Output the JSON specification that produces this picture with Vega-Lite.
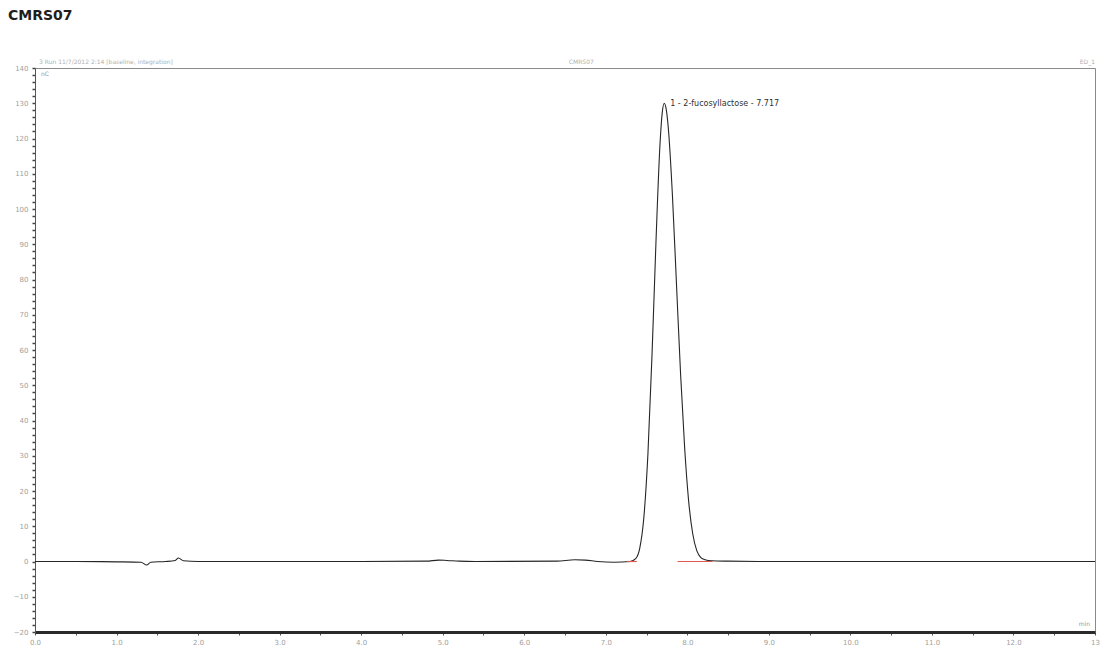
{
  "$schema": "https://vega.github.io/schema/vega-lite/v6.json",
  "width": 1060,
  "height": 564,
  "autosize": {"type": "none"},
  "padding": {"left": 35, "top": 68, "right": 5, "bottom": 15},
  "background": "white",
  "config": {
    "font": "DejaVu Sans",
    "view": {"stroke": "#8a8a8a", "strokeWidth": 1}
  },
  "title": {
    "text": "CMRS07",
    "anchor": "start",
    "frame": "group",
    "dx": -27,
    "offset": 36,
    "fontSize": 14,
    "fontWeight": "bold",
    "font": "DejaVu Sans",
    "color": "#1e1e1e"
  },
  "datasets": {
    "trace": [
      {"t": 0.0, "signal": 0.0},
      {"t": 0.5, "signal": 0.0},
      {"t": 1.0, "signal": -0.1},
      {"t": 1.3, "signal": -0.2},
      {"t": 1.37, "signal": -1.0},
      {"t": 1.42, "signal": -0.2},
      {"t": 1.6, "signal": 0.0},
      {"t": 1.72, "signal": 0.3},
      {"t": 1.76, "signal": 1.0},
      {"t": 1.82, "signal": 0.2},
      {"t": 2.0, "signal": 0.0},
      {"t": 3.0, "signal": 0.0},
      {"t": 4.0, "signal": 0.0},
      {"t": 4.8, "signal": 0.1},
      {"t": 4.95, "signal": 0.4},
      {"t": 5.05, "signal": 0.3},
      {"t": 5.2, "signal": 0.1},
      {"t": 5.4, "signal": 0.0},
      {"t": 6.4, "signal": 0.1},
      {"t": 6.62, "signal": 0.5},
      {"t": 6.75, "signal": 0.4},
      {"t": 6.9, "signal": 0.0},
      {"t": 7.1, "signal": -0.2},
      {"t": 7.3, "signal": 0.0},
      {"t": 7.367, "signal": 0.8},
      {"t": 7.417, "signal": 3.8},
      {"t": 7.467, "signal": 12.5},
      {"t": 7.517, "signal": 30.5},
      {"t": 7.567, "signal": 58.5},
      {"t": 7.617, "signal": 91.5},
      {"t": 7.667, "signal": 119.2},
      {"t": 7.692, "signal": 127.2},
      {"t": 7.717, "signal": 130.0},
      {"t": 7.742, "signal": 128.2},
      {"t": 7.767, "signal": 123.0},
      {"t": 7.817, "signal": 104.1},
      {"t": 7.867, "signal": 78.8},
      {"t": 7.917, "signal": 53.4},
      {"t": 7.967, "signal": 32.4},
      {"t": 8.017, "signal": 17.0},
      {"t": 8.067, "signal": 7.8},
      {"t": 8.117, "signal": 3.0},
      {"t": 8.167, "signal": 1.1},
      {"t": 8.217, "signal": 0.5},
      {"t": 8.3, "signal": 0.2},
      {"t": 8.5, "signal": 0.1},
      {"t": 9.0, "signal": 0.0},
      {"t": 10.0, "signal": 0.0},
      {"t": 11.0, "signal": 0.0},
      {"t": 12.0, "signal": 0.0},
      {"t": 13.0, "signal": 0.0}
    ],
    "integration": [
      {"seg": "start", "t": 7.26, "signal": 0.0},
      {"seg": "start", "t": 7.38, "signal": 0.0},
      {"seg": "end", "t": 7.88, "signal": 0.0},
      {"seg": "end", "t": 8.31, "signal": 0.0}
    ],
    "peaks": [
      {"no": 1, "name": "2-fucosyllactose", "rt": 7.717, "height": 130.0}
    ]
  },
  "layer": [
    {
      "data": {"name": "trace"},
      "mark": {"type": "line", "color": "#262626", "strokeWidth": 1.1, "interpolate": "monotone"},
      "encoding": {
        "x": {
          "field": "t",
          "type": "quantitative",
          "scale": {"domain": [0, 13], "nice": false, "zero": false},
          "axis": {
            "title": null,
            "grid": false,
            "tickCount": 500,
            "values": [0, 0.5, 1, 1.5, 2, 2.5, 3, 3.5, 4, 4.5, 5, 5.5, 6, 6.5, 7, 7.5, 8, 8.5, 9, 9.5, 10, 10.5, 11, 11.5, 12, 12.5, 13],
            "labelExpr": "datum.value % 1 !== 0 ? '' : (datum.value === 13 ? '13' : format(datum.value, '.1f'))",
            "labelOverlap": false,
            "labelFontSize": 7,
            "labelColor": "#a0a0a0",
            "labelPadding": 3,
            "labelFlush": false,
            "domainColor": "#2a2a2a",
            "domainWidth": 3,
            "tickColor": "#555",
            "tickSize": 3
          }
        },
        "y": {
          "field": "signal",
          "type": "quantitative",
          "scale": {"domain": [-20, 140], "nice": false, "zero": false},
          "axis": {
            "title": null,
            "grid": false,
            "tickCount": 500,
            "format": "d",
            "values": [-20, -18, -16, -14, -12, -10, -8, -6, -4, -2, 0, 2, 4, 6, 8, 10, 12, 14, 16, 18, 20, 22, 24, 26, 28, 30, 32, 34, 36, 38, 40, 42, 44, 46, 48, 50, 52, 54, 56, 58, 60, 62, 64, 66, 68, 70, 72, 74, 76, 78, 80, 82, 84, 86, 88, 90, 92, 94, 96, 98, 100, 102, 104, 106, 108, 110, 112, 114, 116, 118, 120, 122, 124, 126, 128, 130, 132, 134, 136, 138, 140],
            "labelExpr": "datum.value % 10 === 0 ? format(datum.value, 'd') : ''",
            "labelOverlap": false,
            "labelFontSize": 7,
            "labelColor": "#a0a0a0",
            "labelPadding": 4,
            "labelFlush": false,
            "domainColor": "#555",
            "domainWidth": 1,
            "tickColor": "#444",
            "tickSize": 3,
            "tickWidth": 1.5
          }
        }
      }
    },
    {
      "data": {"name": "integration"},
      "mark": {"type": "line", "color": "#e0584f", "strokeWidth": 1.2},
      "encoding": {
        "x": {"field": "t", "type": "quantitative"},
        "y": {"field": "signal", "type": "quantitative"},
        "detail": {"field": "seg"}
      }
    },
    {
      "data": {"name": "peaks"},
      "transform": [
        {"calculate": "datum.no + ' - ' + datum.name + ' - ' + format(datum.rt, '.3f')", "as": "label"}
      ],
      "mark": {"type": "text", "align": "left", "baseline": "middle", "dx": 6, "dy": 1, "fontSize": 8, "color": "#303030"},
      "encoding": {
        "x": {"field": "rt", "type": "quantitative"},
        "y": {"field": "height", "type": "quantitative"},
        "text": {"field": "label"}
      }
    },
    {
      "data": {"values": [{"label": "3  Run 11/7/2012 2:14 [baseline, integration]"}]},
      "mark": {"type": "text", "align": "left", "baseline": "bottom", "dy": -3, "fontSize": 6, "color": "#b0b0b0"},
      "encoding": {"x": {"datum": 0.05}, "y": {"datum": 140}, "text": {"field": "label"}}
    },
    {
      "data": {"values": [{"label": "CMRS07"}]},
      "mark": {"type": "text", "align": "center", "baseline": "bottom", "dy": -3, "fontSize": 6, "color": "#b0b0b0"},
      "encoding": {"x": {"datum": 6.7}, "y": {"datum": 140}, "text": {"field": "label"}}
    },
    {
      "data": {"values": [{"label": "ED_1"}]},
      "mark": {"type": "text", "align": "right", "baseline": "bottom", "dy": -3, "fontSize": 6, "color": "#b0b0b0"},
      "encoding": {"x": {"datum": 13}, "y": {"datum": 140}, "text": {"field": "label"}}
    },
    {
      "data": {"values": [{"label": "nC"}]},
      "mark": {"type": "text", "align": "left", "baseline": "top", "dx": 6, "dy": 3, "fontSize": 6, "color": "#9a9a9a"},
      "encoding": {"x": {"datum": 0}, "y": {"datum": 140}, "text": {"field": "label"}}
    },
    {
      "data": {"values": [{"label": "min"}]},
      "mark": {"type": "text", "align": "right", "baseline": "bottom", "dx": -5, "dy": -5, "fontSize": 6, "color": "#9a9a9a"},
      "encoding": {"x": {"datum": 13}, "y": {"datum": -20}, "text": {"field": "label"}}
    }
  ]
}
